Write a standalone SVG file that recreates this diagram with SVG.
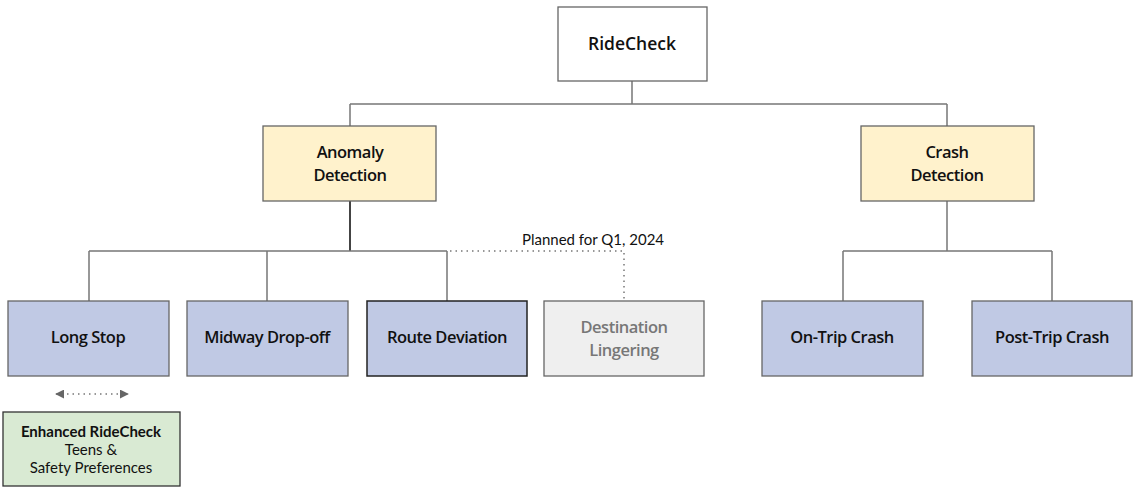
<svg xmlns="http://www.w3.org/2000/svg" width="1134" height="489" viewBox="0 0 1134 489">
<defs>
<style>
.box{stroke:#666;stroke-width:1.3}
.blue{fill:#c0c9e4}
.yel{fill:#fff2cc}
.lbl{font-family:"Open Sans","Liberation Sans",sans-serif;font-size:16.5px;font-weight:600;fill:#111;text-anchor:middle;letter-spacing:-0.5px}
.sm{font-family:Lato,"Liberation Sans",sans-serif;font-size:15px;fill:#111;text-anchor:middle}
.ln{stroke:#777;stroke-width:1.5;fill:none}
.dot{stroke:#777;stroke-width:1.5;fill:none;stroke-dasharray:1.5 4}
</style>
<marker id="ah" viewBox="0 0 10 10" refX="9" refY="5" markerWidth="9" markerHeight="9" orient="auto-start-reverse" markerUnits="userSpaceOnUse">
<path d="M0,0 L10,5 L0,10 z" fill="#666"/>
</marker>
</defs>
<rect width="1134" height="489" fill="#fff"/>
<g id="connectors">
<path class="ln" d="M632,81 V104 M350,104 H947 M350,104 V126 M947,104 V126"/>
<path d="M350,201 V251" stroke="#444" stroke-width="2" fill="none"/>
<path class="ln" d="M89,251 H447 M89,251 V301 M267,251 V301 M447,251 V301"/>
<path class="dot" d="M450,251 H624 V299"/>
<path class="ln" d="M947,201 V251 M843,251 H1052 M843,251 V301 M1052,251 V301"/>
<path class="dot" d="M56,394 H128" marker-start="url(#ah)" marker-end="url(#ah)"/>
<text class="sm" x="593" y="245">Planned for Q1, 2024</text>
</g>
<g id="ridecheck">
<rect class="box" x="558" y="7" width="149" height="74" fill="#fff"/>
<text class="lbl" x="632" y="50" style="font-size:17.5px;letter-spacing:0">RideCheck</text>
</g>
<g id="anomaly">
<rect class="box yel" x="263" y="126" width="173" height="75"/>
<text class="lbl" x="350" y="158">Anomaly</text>
<text class="lbl" x="350" y="181">Detection</text>
</g>
<g id="crash">
<rect class="box yel" x="861" y="126" width="173" height="75"/>
<text class="lbl" x="947" y="158">Crash</text>
<text class="lbl" x="947" y="181">Detection</text>
</g>
<g id="longstop">
<rect class="box blue" x="8" y="301" width="161" height="75"/>
<text class="lbl" x="88" y="343">Long Stop</text>
</g>
<g id="midway">
<rect class="box blue" x="187" y="301" width="161" height="75"/>
<text class="lbl" x="267" y="343">Midway Drop-off</text>
</g>
<g id="route">
<rect class="blue" x="367" y="301" width="160" height="75" stroke="#222" stroke-width="1.5"/>
<text class="lbl" x="447" y="343">Route Deviation</text>
</g>
<g id="destination">
<rect class="box" x="544" y="301" width="160" height="75" fill="#efefef"/>
<text class="lbl" x="624" y="333" style="fill:#777">Destination</text>
<text class="lbl" x="624" y="356" style="fill:#777">Lingering</text>
</g>
<g id="ontrip">
<rect class="box blue" x="762" y="301" width="161" height="75"/>
<text class="lbl" x="842" y="343">On-Trip Crash</text>
</g>
<g id="posttrip">
<rect class="box blue" x="972" y="301" width="160" height="75"/>
<text class="lbl" x="1052" y="343">Post-Trip Crash</text>
</g>
<g id="enhanced">
<rect x="3" y="412" width="177" height="74" fill="#d9ead3" stroke="#333" stroke-width="1.3"/>
<text class="sm" x="91" y="437" font-weight="bold">Enhanced RideCheck</text>
<text class="sm" x="91" y="455">Teens &amp;</text>
<text class="sm" x="91" y="473">Safety Preferences</text>
</g>
</svg>
